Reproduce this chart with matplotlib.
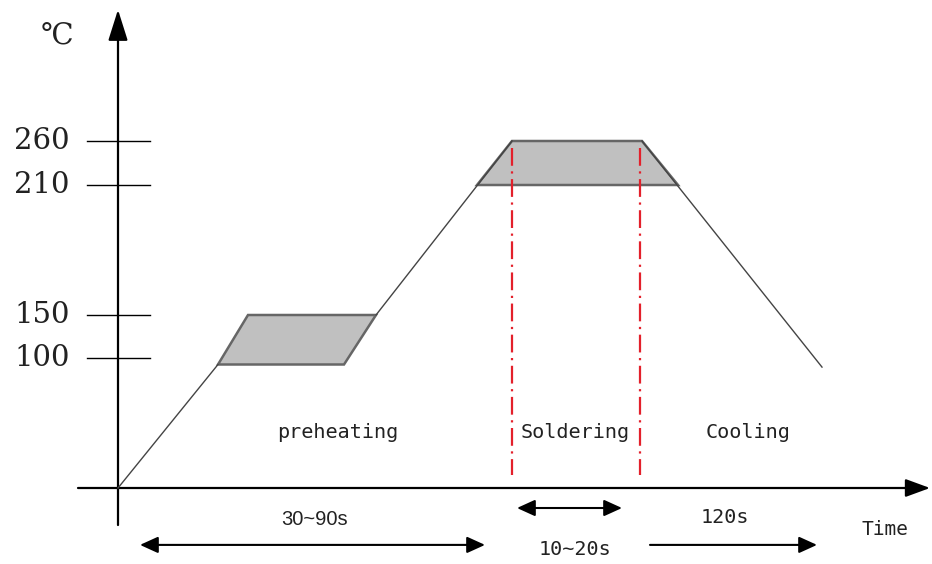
import numpy as np
import matplotlib
matplotlib.use("Agg")
import matplotlib.pyplot as plt
from matplotlib.patches import Polygon

# ---- schematic data ------------------------------------------------
# temperature levels marked on the vertical axis
temp_ticks = [100, 150, 210, 260]
tick_labels = ["100", "150", "210", "260"]

# schematic (non-linear) temperature scale: level -> height on the drawing
scale_temp = [-58.5, 0, 100, 150, 210, 260, 420]
scale_pos = [0, 76, 206, 249, 379, 423, 564]

# reflow profile, time in schematic units
heat1_t = [0, 100]
heat1_T = [0, 95]
soak_t = [100, 130, 258, 226]
soak_T = [95, 150, 150, 95]
heat2_t = [258, 394]
heat2_T = [150, 260]
peak_t = [359, 394, 524, 560]
peak_T = [210, 260, 260, 210]
cool_t = [524, 704]
cool_T = [260, 93]

# soldering window markers
solder_t = [394, 522]
solder_T = [252, 10]

# phase labels
phase_names = ["preheating", "Soldering", "Cooling"]
phase_t = [220, 457, 630]
phase_T = 43

# duration arrows (start, end, label, label position)
dur_spans = [(22, 367), (399, 504), (532, 699)]
dur_levels = [-43.8, -15.4, -43.8]
dur_labels = ["30~90s", "10~20s", "120s"]
dur_label_t = [197, 457, 607]
dur_label_T = [-24.6, -47.7, -23]
dur_styles = ["<|-|>", "<|-|>", "-|>"]


def fwd(T):
    return np.interp(T, scale_temp, scale_pos)


def inv(p):
    return np.interp(p, scale_pos, scale_temp)


fig = plt.figure(figsize=(9.32, 5.64), dpi=100)
ax = fig.add_axes([0, 0, 1, 1])
ax.set_yscale("function", functions=(fwd, inv))
ax.set_xlim(-118, 814)
ax.set_ylim(scale_temp[0], scale_temp[-1])
ax.axis("off")

# axes with arrow heads
ax.annotate("", xy=(0, 409), xytext=(0, -28.5), annotation_clip=False,
            arrowprops=dict(arrowstyle="-|>,head_length=1.9,head_width=0.6",
                            lw=1.6, color="black", shrinkA=0, shrinkB=0))
ax.annotate("", xy=(812, 0), xytext=(-40, 0), annotation_clip=False,
            arrowprops=dict(arrowstyle="-|>,head_length=1.5,head_width=0.55",
                            lw=1.6, color="black", shrinkA=0, shrinkB=0))

# ticks on the temperature axis
for T, lab in zip(temp_ticks, tick_labels):
    ax.plot([-31, 32], [T, T], color="black", lw=1.0)
    ax.text(-48, T, lab, ha="right", va="center", fontsize=21,
            family="DejaVu Serif", color="#222222")
ax.text(-61, 379, "℃", ha="center", va="center", fontsize=21,
        family=["DejaVu Serif", "Noto Sans CJK SC"], color="#222222")

# soak and peak zones
ax.add_patch(Polygon(list(zip(soak_t, soak_T)), closed=True,
                     facecolor="#c0c0c0", edgecolor="#666666", lw=1.8, zorder=2))
ax.add_patch(Polygon(list(zip(peak_t, peak_T)), closed=True,
                     facecolor="#c0c0c0", edgecolor="#666666", lw=1.8, zorder=2))

# profile lines
for t, T in [(heat1_t, heat1_T), (heat2_t, heat2_T), (cool_t, cool_T)]:
    ax.plot(t, T, color="#444444", lw=1.0, zorder=3)

# soldering window
for t in solder_t:
    ax.plot([t, t], solder_T, color="#e3202b", lw=1.6,
            ls=(0, (8, 2.5, 1, 2.5)), zorder=4)

# phase labels
for name, t in zip(phase_names, phase_t):
    ax.text(t, phase_T, name, ha="center", va="center", fontsize=14.5,
            family="DejaVu Sans Mono", color="#222222")

# duration arrows
for (t0, t1), lvl, st in zip(dur_spans, dur_levels, dur_styles):
    ax.annotate("", xy=(t1, lvl), xytext=(t0, lvl),
                arrowprops=dict(arrowstyle=st + ",head_length=1.1,head_width=0.5",
                                lw=1.5, color="black", shrinkA=0, shrinkB=0))
for lab, t, T in zip(dur_labels, dur_label_t, dur_label_T):
    fam = "Liberation Sans" if lab == "30~90s" else "DejaVu Sans Mono"
    ax.text(t, T, lab, ha="center", va="center", fontsize=14.5,
            family=fam, color="#222222")

ax.text(767, -32, "Time", ha="center", va="center", fontsize=14,
        family="DejaVu Sans Mono", color="#222222")

fig.savefig("out.png", dpi=100)
